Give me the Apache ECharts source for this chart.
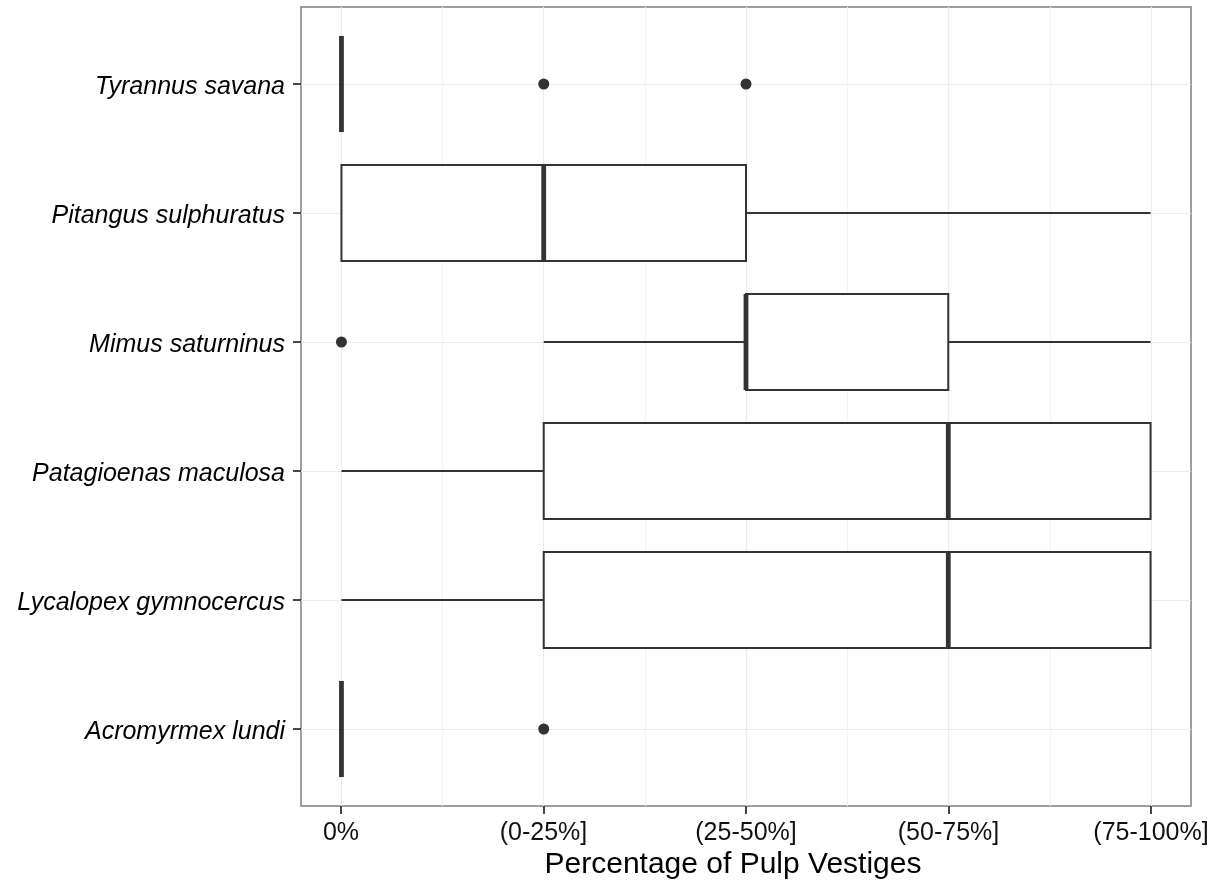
<!DOCTYPE html>
<html>
<head>
<meta charset="utf-8">
<script src="https://cdn.jsdelivr.net/npm/echarts@6/dist/echarts.min.js"></script>
<style>
  html, body { margin: 0; padding: 0; background: #ffffff; }
  #chart { width: 1225px; height: 884px; }
</style>
</head>
<body>
<div id="chart"></div>
<script>
// ---- data ----
var categories = ['Tyrannus savana', 'Pitangus sulphuratus', 'Mimus saturninus',
                  'Patagioenas maculosa', 'Lycalopex gymnocercus', 'Acromyrmex lundi'];
var tickLabels = ['0%', '(0-25%]', '(25-50%]', '(50-75%]', '(75-100%]'];
var whiskerLow  = [0, 0, 1, 0, 0, 0];
var quartile1   = [0, 0, 2, 1, 1, 0];
var medians     = [0, 1, 2, 3, 3, 0];
var quartile3   = [0, 2, 3, 4, 4, 0];
var whiskerHigh = [0, 4, 4, 4, 4, 0];
var outlierValues     = [1, 2, 0, 1];
var outlierCategories = ['Tyrannus savana', 'Tyrannus savana', 'Mimus saturninus', 'Acromyrmex lundi'];
var axisTitle = 'Percentage of Pulp Vestiges';

// ---- build ----
var FONT = "'Liberation Sans', Arial, sans-serif";
var INK = '#333333';
var BOX_FRAC = 0.745;

var boxData = categories.map(function (c, i) {
  return [i, whiskerLow[i], quartile1[i], medians[i], quartile3[i], whiskerHigh[i]];
});
var outlierData = outlierValues.map(function (v, i) { return [v, outlierCategories[i]]; });

function renderBox(params, api) {
  var cat = api.value(0);
  var pMin = api.coord([api.value(1), cat]);
  var pQ1  = api.coord([api.value(2), cat]);
  var pMed = api.coord([api.value(3), cat]);
  var pQ3  = api.coord([api.value(4), cat]);
  var pMax = api.coord([api.value(5), cat]);
  var h = api.size([0, 1])[1] * BOX_FRAC;
  var y = pQ1[1];
  var lineStyle = { stroke: INK, lineWidth: 2, fill: null };
  return {
    type: 'group',
    children: [
      { type: 'line', shape: { x1: pMin[0], y1: y, x2: pQ1[0], y2: y }, style: lineStyle },
      { type: 'line', shape: { x1: pQ3[0], y1: y, x2: pMax[0], y2: y }, style: lineStyle },
      { type: 'rect', shape: { x: pQ1[0], y: y - h / 2, width: pQ3[0] - pQ1[0], height: h },
        style: { stroke: INK, lineWidth: 2, fill: '#ffffff' } },
      { type: 'line', shape: { x1: pMed[0], y1: y - h / 2, x2: pMed[0], y2: y + h / 2 },
        style: { stroke: INK, lineWidth: 4.8, lineCap: 'butt' } }
    ]
  };
}

var chart = echarts.init(document.getElementById('chart'), null, { renderer: 'canvas' });
chart.setOption({
  animation: false,
  backgroundColor: '#ffffff',
  textStyle: { fontFamily: FONT },
  grid: [
    // panel frame
    { left: 301, right: 34, top: 7, bottom: 78, show: true, borderColor: '#7f7f7f', borderWidth: 1.5,
      backgroundColor: 'transparent', containLabel: false, outerBoundsMode: 'none' },
    // x scale grid (0..4)
    { left: 341, right: 74, top: 7, bottom: 78, containLabel: false, outerBoundsMode: 'none' },
    // boxplot grid (category centres)
    { left: 301, right: 34, top: 84, bottom: 155, containLabel: false, outerBoundsMode: 'none' }
  ],
  xAxis: [
    { gridIndex: 0, type: 'value', min: 0, max: 1, show: true,
      axisLine: { show: false }, axisTick: { show: false }, axisLabel: { show: false },
      splitLine: { show: false },
      name: axisTitle, nameLocation: 'middle', nameGap: 44,
      nameTextStyle: { fontSize: 30, color: '#000000', fontFamily: FONT, padding: [0, 26, 0, 0] } },
    { gridIndex: 1, type: 'value', min: 0, max: 4, interval: 1,
      axisLine: { show: false },
      axisTick: { show: true, length: 8, lineStyle: { color: INK, width: 1.8 } },
      axisLabel: { show: true, margin: 15, fontSize: 25, color: '#111111', fontFamily: FONT,
        formatter: function (v) { return tickLabels[Math.round(v)]; } },
      splitLine: { show: true, lineStyle: { color: '#EBEBEB', width: 1.2 } },
      minorTick: { show: false, splitNumber: 2 },
      minorSplitLine: { show: true, lineStyle: { color: '#F3F3F3', width: 1 } } },
    { gridIndex: 2, type: 'value', min: -0.2, max: 4.2, show: false,
      axisLine: { onZero: false } }
  ],
  yAxis: [
    { gridIndex: 0, type: 'value', show: false },
    { gridIndex: 1, type: 'value', show: false },
    { gridIndex: 2, type: 'category', data: categories, inverse: true, boundaryGap: false,
      axisLine: { show: false, onZero: false },
      axisTick: { show: true, length: 8, lineStyle: { color: INK, width: 1.8 } },
      axisLabel: { margin: 16, fontSize: 25, fontStyle: 'italic', color: '#000000', fontFamily: FONT,
        formatter: function (v) { return '{n|' + v + '}'; },
        rich: { n: { fontSize: 25, fontStyle: 'italic', color: '#000000', fontFamily: FONT,
                     padding: [6, 0, 0, 0] } } },
      splitLine: { show: true, lineStyle: { color: '#EBEBEB', width: 1.2 } } }
  ],
  series: [
    { type: 'custom', xAxisIndex: 2, yAxisIndex: 2, data: boxData,
      encode: { x: [1, 2, 3, 4, 5], y: 0 }, renderItem: renderBox, z: 3 },
    { type: 'scatter', xAxisIndex: 2, yAxisIndex: 2, data: outlierData,
      symbol: 'circle', symbolSize: 11, itemStyle: { color: INK, opacity: 1 }, z: 4 }
  ]
});
</script>
</body>
</html>
